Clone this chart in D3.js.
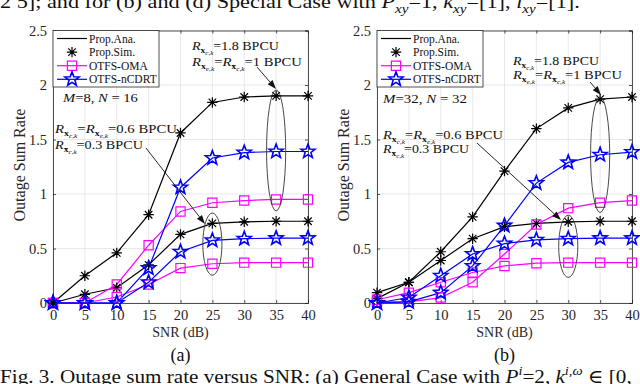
<!DOCTYPE html>
<html>
<head>
<meta charset="utf-8">
<script src="https://cdn.jsdelivr.net/npm/d3@7"></script>
<style>
  body { margin: 0; background: #fff; }
  svg text { font-family: "Liberation Serif", "Times New Roman", "DejaVu Serif", serif; }
</style>
</head>
<body>
<svg id="fig" width="640" height="384"></svg>
<script>
// ---- data ----
const snr = [0, 5, 10, 15, 20, 25, 30, 35, 40];
const yTicks = [0, 0.5, 1, 1.5, 2, 2.5];

// panel (a): M=8, N=16
const anaHighA = [0, 0.25, 0.46, 0.81, 1.56, 1.84, 1.89, 1.9, 1.9];
const anaLowA = [0, 0.08, 0.14, 0.35, 0.63, 0.73, 0.745, 0.75, 0.75];
const omaHighA = [0, 0, 0.17, 0.53, 0.84, 0.92, 0.94, 0.95, 0.95];
const omaLowA = [0, 0, 0.055, 0.17, 0.32, 0.36, 0.37, 0.37, 0.37];
const ncdrtHighA = [0, 0, 0, 0.32, 1.06, 1.33, 1.38, 1.39, 1.39];
const ncdrtLowA = [0, 0, 0, 0.19, 0.47, 0.575, 0.59, 0.595, 0.595];

// panel (b): M=32, N=32
const anaHighB = [0.095, 0.19, 0.47, 0.79, 1.21, 1.6, 1.79, 1.87, 1.89];
const anaLowB = [0.04, 0.19, 0.39, 0.59, 0.7, 0.73, 0.745, 0.75, 0.75];
const omaHighB = [0.01, 0.01, 0.05, 0.19, 0.45, 0.72, 0.87, 0.92, 0.94];
const omaLowB = [0.03, 0.095, 0.19, 0.28, 0.34, 0.365, 0.37, 0.37, 0.37];
const ncdrtHighB = [0, 0.01, 0.095, 0.34, 0.71, 1.1, 1.29, 1.36, 1.385];
const ncdrtLowB = [0, 0.05, 0.25, 0.45, 0.545, 0.58, 0.59, 0.595, 0.595];

const legendNames = ['Prop.Ana.', 'Prop.Sim.', 'OTFS-OMA', 'OTFS-nCDRT'];

const svg = d3.select('#fig');
const axisCol = '#262626';

// star / asterisk / square marker paths
function starPath(ro, ri) {
  let p = '';
  for (let k = 0; k < 10; k++) {
    const a = -Math.PI / 2 + (k * Math.PI) / 5;
    const r = k % 2 ? ri : ro;
    p += (k ? 'L' : 'M') + (r * Math.cos(a)).toFixed(2) + ',' + (r * Math.sin(a)).toFixed(2);
  }
  return p + 'Z';
}
function asteriskPath(r) {
  const d = r * 0.72;
  return `M${-r},0L${r},0M0,${-r}L0,${r}M${-d},${-d}L${d},${d}M${-d},${d}L${d},${-d}`;
}
const markerPath = {
  ast: asteriskPath(5.2),
  sq: 'M-4.6,-4.6H4.6V4.6H-4.6Z',
  star: starPath(7.4, 3.1)
};
const markerStyle = {
  ast: { stroke: '#000', w: 1.2 },
  sq: { stroke: '#ff00ff', w: 1.2 },
  star: { stroke: '#0000ff', w: 1.6 }
};

// rich text with sub / subsub / sup levels; optional width fit
function rich(g, x, y, parts, size, fitW) {
  const t = g.append('text').attr('x', x).attr('y', y).attr('font-size', size).attr('fill', '#111');
  const off = { 0: 0, 1: size * 0.25, 2: size * 0.42, '-1': -size * 0.4 };
  const sz = { 0: size, 1: size * 0.68, 2: size * 0.5, '-1': size * 0.68 };
  let cur = 0;
  parts.forEach(p => {
    const lvl = p.l || 0;
    t.append('tspan')
      .attr('dy', off[lvl] - cur)
      .attr('font-size', sz[lvl])
      .attr('font-style', p.i ? 'italic' : null)
      .attr('font-weight', p.b ? 'bold' : null)
      .text(p.t);
    cur = off[lvl];
  });
  if (fitW) {
    const w = t.node().getComputedTextLength();
    const s = fitW / w;
    t.attr('transform', `translate(${x},0) scale(${s},1) translate(${-x},0)`);
  }
  return t;
}
const Rx = (sub, bar) => [
  { t: 'R', i: true },
  { t: bar ? 'x\u0304' : 'x', b: true, l: 1 },
  { t: sub, i: true, l: 2 }
];

function drawPanel(cfg) {
  const x = d3.scaleLinear().domain([0, 40]).range([cfg.x0, cfg.x1]);
  const y = d3.scaleLinear().domain([0, 2.5]).range([303, 30.5]);
  const g = svg.append('g');

  // grid
  g.selectAll('.gx').data(snr).enter().append('line')
    .attr('x1', d => x(d)).attr('x2', d => x(d)).attr('y1', y(0)).attr('y2', y(2.5))
    .attr('stroke', '#e3e3e3').attr('stroke-width', 0.8);
  g.selectAll('.gy').data(yTicks).enter().append('line')
    .attr('x1', x(0)).attr('x2', x(40)).attr('y1', d => y(d)).attr('y2', d => y(d))
    .attr('stroke', '#e3e3e3').attr('stroke-width', 0.8);

  // axes (inward ticks, box)
  g.append('g').attr('transform', `translate(0,${y(0)})`)
    .call(d3.axisBottom(x).tickValues(snr).tickSize(-3).tickPadding(7));
  g.append('g').attr('transform', `translate(${x(0)},0)`)
    .call(d3.axisLeft(y).tickValues(yTicks).tickSize(-3).tickPadding(6).tickFormat(d3.format('')));
  g.append('g').attr('transform', `translate(0,${y(2.5)})`)
    .call(d3.axisTop(x).tickValues(snr).tickSize(-3).tickFormat(''));
  g.append('g').attr('transform', `translate(${x(40)},0)`)
    .call(d3.axisRight(y).tickValues(yTicks).tickSize(-3).tickFormat(''));
  g.selectAll('.domain, .tick line').attr('stroke', axisCol).attr('stroke-width', 0.8);
  g.selectAll('.tick text').attr('fill', axisCol).attr('font-size', 14.5);

  // series
  const line = d3.line().x((d, i) => x(snr[i])).y(d => y(d));
  cfg.series.forEach(s => {
    g.append('path').datum(s.v).attr('d', line)
      .attr('fill', 'none').attr('stroke', s.c).attr('stroke-width', 1.2);
  });
  cfg.series.forEach(s => {
    const st = markerStyle[s.m];
    g.selectAll(null).data(s.v).enter().append('path')
      .attr('transform', (d, i) => `translate(${x(snr[i])},${y(d)})`)
      .attr('d', markerPath[s.m])
      .attr('fill', 'none').attr('stroke', st.stroke).attr('stroke-width', st.w);
  });

  // ellipses
  cfg.ellipses.forEach(e => {
    g.append('ellipse')
      .attr('cx', x(e.x)).attr('cy', y(e.y))
      .attr('rx', x(e.x + e.rx) - x(e.x)).attr('ry', y(0) - y(e.ry))
      .attr('fill', 'none').attr('stroke', '#333').attr('stroke-width', 0.9);
  });

  // arrows
  cfg.arrows.forEach(a => {
    const ang = Math.atan2(a.y2 - a.y1, a.x2 - a.x1);
    const L = 9, W = 3.2;
    const bx = a.x2 - L * Math.cos(ang), by = a.y2 - L * Math.sin(ang);
    g.append('line').attr('x1', a.x1).attr('y1', a.y1).attr('x2', bx).attr('y2', by)
      .attr('stroke', '#111').attr('stroke-width', 0.9);
    g.append('path')
      .attr('d', `M${a.x2},${a.y2}L${bx - W * Math.sin(ang)},${by + W * Math.cos(ang)}L${bx + W * Math.sin(ang)},${by - W * Math.cos(ang)}Z`)
      .attr('fill', '#111');
  });

  // annotation text
  cfg.notes.forEach(n => rich(g, n.x, n.y, n.parts, 13, n.w));

  // legend
  const lg = g.append('g').attr('transform', `translate(${x(0)},${y(2.5)})`);
  lg.append('rect').attr('width', 106).attr('height', 56.5)
    .attr('fill', '#fff').attr('stroke', axisCol).attr('stroke-width', 0.8);
  const lgItems = [
    { line: '#000', m: null },
    { line: null, m: 'ast' },
    { line: '#ff00ff', m: 'sq' },
    { line: '#0000ff', m: 'star' }
  ];
  lgItems.forEach((it, i) => {
    const yy = 8 + i * 13.6;
    if (it.line) lg.append('line').attr('x1', 4).attr('x2', 34).attr('y1', yy).attr('y2', yy)
      .attr('stroke', it.line).attr('stroke-width', 1.2);
    if (it.m) lg.append('path').attr('transform', `translate(19,${yy})`).attr('d', markerPath[it.m])
      .attr('fill', 'none').attr('stroke', markerStyle[it.m].stroke).attr('stroke-width', markerStyle[it.m].w);
    lg.append('text').attr('x', 36).attr('y', yy + 4).attr('font-size', 11.5).attr('fill', '#111')
      .text(legendNames[i]);
  });

  rich(g, cfg.mn.x, cfg.mn.y, cfg.mn.parts, 13.5, cfg.mn.w);

  // axis titles
  const cx = (cfg.x0 + cfg.x1) / 2;
  g.append('text').attr('x', cx).attr('y', 337).attr('text-anchor', 'middle')
    .attr('font-size', 14).attr('fill', axisCol).text('SNR (dB)');
  g.append('text').attr('transform', `translate(${cfg.x0 - 28},165) rotate(-90)`)
    .attr('text-anchor', 'middle').attr('font-size', 16).attr('fill', axisCol).text('Outage Sum Rate');
  g.append('text').attr('x', cx).attr('y', 361).attr('text-anchor', 'middle')
    .attr('font-size', 18).attr('fill', '#111').text(cfg.tag);
}

const lowNote = [
  [...Rx('c,k'), { t: '=' }, ...Rx('e,k'), { t: '=0.6 BPCU' }],
  [...Rx('c,k', true), { t: '=0.3 BPCU' }]
];
const highNote = [
  [...Rx('c,k'), { t: '=1.8 BPCU' }],
  [...Rx('e,k'), { t: '=' }, ...Rx('c,k', true), { t: '=1 BPCU' }]
];

drawPanel({
  x0: 53, x1: 308, tag: '(a)',
  series: [
    { v: anaHighA, c: '#000', m: 'ast' }, { v: anaLowA, c: '#000', m: 'ast' },
    { v: omaHighA, c: '#ff00ff', m: 'sq' }, { v: omaLowA, c: '#ff00ff', m: 'sq' },
    { v: ncdrtHighA, c: '#0000ff', m: 'star' }, { v: ncdrtLowA, c: '#0000ff', m: 'star' }
  ],
  ellipses: [{ x: 25, y: 0.54, rx: 1.5, ry: 0.285 }, { x: 35, y: 1.4, rx: 1.5, ry: 0.555 }],
  arrows: [{ x1: 146, y1: 148, x2: 205, y2: 224 }, { x1: 257, y1: 67, x2: 276, y2: 89 }],
  notes: [
    { x: 55, y: 133, w: 122, parts: lowNote[0] }, { x: 55, y: 149, w: 88, parts: lowNote[1] },
    { x: 192, y: 50, w: 87, parts: highNote[0] }, { x: 192, y: 66, w: 110, parts: highNote[1] }
  ],
  mn: { x: 63, y: 102, w: 75, parts: [{ t: 'M', i: true }, { t: '=8, ' }, { t: 'N', i: true }, { t: ' = 16' }] }
});

drawPanel({
  x0: 377, x1: 632, tag: '(b)',
  series: [
    { v: anaHighB, c: '#000', m: 'ast' }, { v: anaLowB, c: '#000', m: 'ast' },
    { v: omaHighB, c: '#ff00ff', m: 'sq' }, { v: omaLowB, c: '#ff00ff', m: 'sq' },
    { v: ncdrtHighB, c: '#0000ff', m: 'star' }, { v: ncdrtLowB, c: '#0000ff', m: 'star' }
  ],
  ellipses: [{ x: 30, y: 0.52, rx: 1.5, ry: 0.285 }, { x: 35, y: 1.36, rx: 1.5, ry: 0.53 }],
  arrows: [{ x1: 477, y1: 143, x2: 561, y2: 220 }, { x1: 590, y1: 82, x2: 601, y2: 95 }],
  notes: [
    { x: 383, y: 139, w: 120, parts: lowNote[0] }, { x: 383, y: 153, w: 86, parts: lowNote[1] },
    { x: 513, y: 65, w: 86, parts: highNote[0] }, { x: 513, y: 79, w: 109, parts: highNote[1] }
  ],
  mn: { x: 383, y: 103, w: 84, parts: [{ t: 'M', i: true }, { t: '=32, ' }, { t: 'N', i: true }, { t: ' = 32' }] }
});

// surrounding paper text (cut by the crop)
rich(svg, 0, 8, [
  { t: '2 5]; and for (b) and (d) Special Case with ' }, { t: 'P', i: true }, { t: 'xy', i: true, l: 1 },
  { t: '=1, ' }, { t: 'k', i: true }, { t: 'xy', i: true, l: 1 }, { t: '=[1], ' },
  { t: 'l', i: true }, { t: 'xy', i: true, l: 1 }, { t: '=[1].' }
], 19, 580);
rich(svg, 0, 383, [
  { t: 'Fig. 3.    Outage sum rate versus SNR: (a) General Case with ' }, { t: 'P', i: true },
  { t: 'i', i: true, l: -1 }, { t: '=2, ' }, { t: 'k', i: true }, { t: 'i,\u03c9', i: true, l: -1 },
  { t: ' \u2208 [0,' }
], 19, 632);
</script>
</body>
</html>
